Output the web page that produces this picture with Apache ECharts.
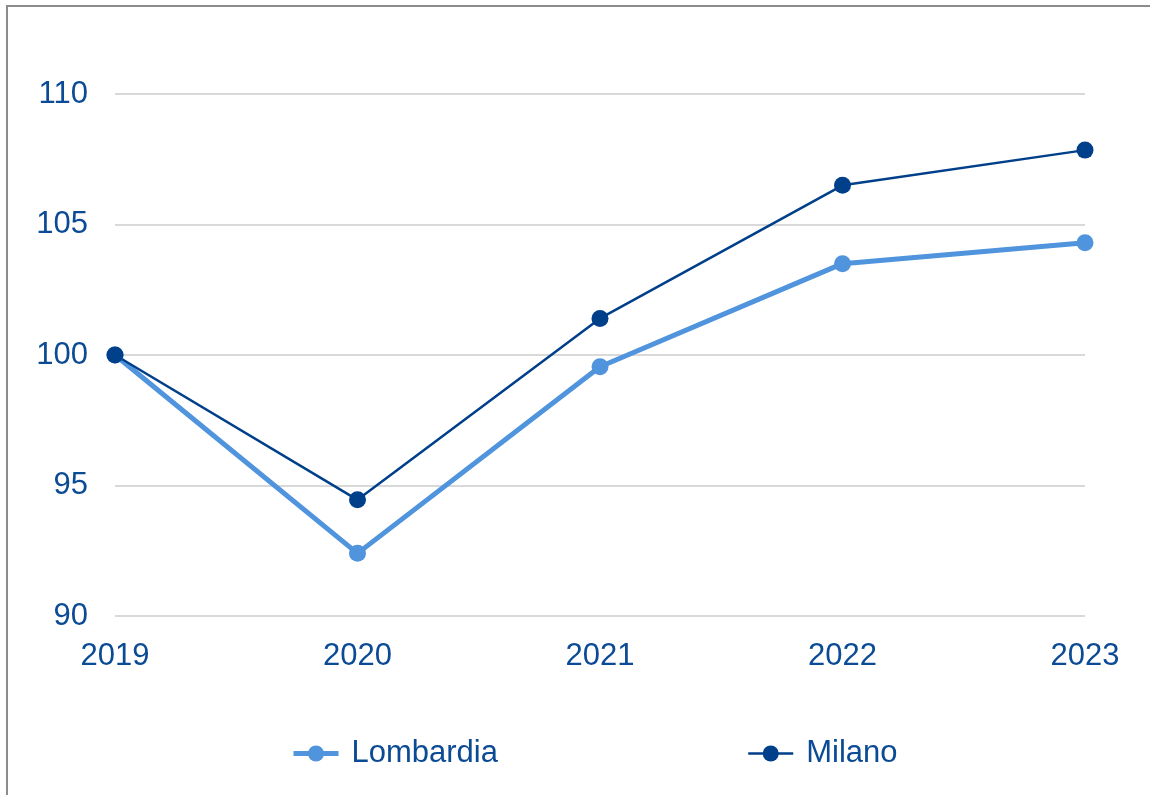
<!DOCTYPE html>
<html>
<head>
<meta charset="utf-8">
<script src="https://cdn.jsdelivr.net/npm/echarts@6/dist/echarts.min.js"></script>
<style>
  html, body { margin: 0; padding: 0; background: #fff; overflow: hidden; }
  #graph {
    width: 1150px;
    height: 795px;
    box-sizing: border-box;
    border-left: 2px solid #8c8c8c;
    border-top: 2px solid #8c8c8c;
    position: absolute;
    left: 6px;
    top: 5px;
  }
</style>
</head>
<body>
<div id="graph"></div>
<script>
const years = ['2019', '2020', '2021', '2022', '2023'];
const lombardia = [100, 92.4, 99.55, 103.5, 104.3];
const milano = [100, 94.45, 101.4, 106.5, 107.85];
const yTicks = [90, 95, 100, 105, 110];

const textColor = '#0b4a94';
const font = 'Liberation Sans, Arial, sans-serif';

var myChart = echarts.init(document.getElementById('graph'));
myChart.setOption({
  backgroundColor: '#fff',
  animation: false,
  legend: {
    data: [
      { name: 'Lombardia', itemStyle: { color: '#4f94dc' }, lineStyle: { color: '#4f94dc', width: 5 } },
      { name: 'Milano', itemStyle: { color: '#003f8a' }, lineStyle: { color: '#003f8a', width: 2.5 } }
    ],
    left: 278,
    top: 726,
    itemGap: 249,
    itemWidth: 45,
    itemHeight: 20,
    textStyle: { color: textColor, fontSize: 31, fontFamily: font, padding: [0, 0, 0, 8] }
  },
  grid: {
    left: 107,
    right: 71,
    top: 87,
    bottom: 184
  },
  xAxis: {
    type: 'category',
    data: years,
    boundaryGap: false,
    axisLine: { show: false },
    axisTick: { show: false },
    axisLabel: { color: textColor, fontSize: 31, fontFamily: font, margin: 25 }
  },
  yAxis: {
    type: 'value',
    min: yTicks[0],
    max: yTicks[yTicks.length - 1],
    interval: 5,
    axisLine: { show: false },
    axisTick: { show: false },
    splitLine: { lineStyle: { color: '#d9d9d9', width: 2 } },
    axisLabel: { color: textColor, fontSize: 31, fontFamily: font, margin: 27 }
  },
  series: [
    {
      name: 'Lombardia',
      type: 'line',
      data: lombardia,
      symbol: 'circle',
      symbolSize: 17,
      lineStyle: { color: '#4f94dc', width: 5 },
      itemStyle: { color: '#4f94dc' }
    },
    {
      name: 'Milano',
      type: 'line',
      data: milano,
      symbol: 'circle',
      symbolSize: 17,
      lineStyle: { color: '#003f8a', width: 2.5 },
      itemStyle: { color: '#003f8a' }
    }
  ]
});
</script>
</body>
</html>
